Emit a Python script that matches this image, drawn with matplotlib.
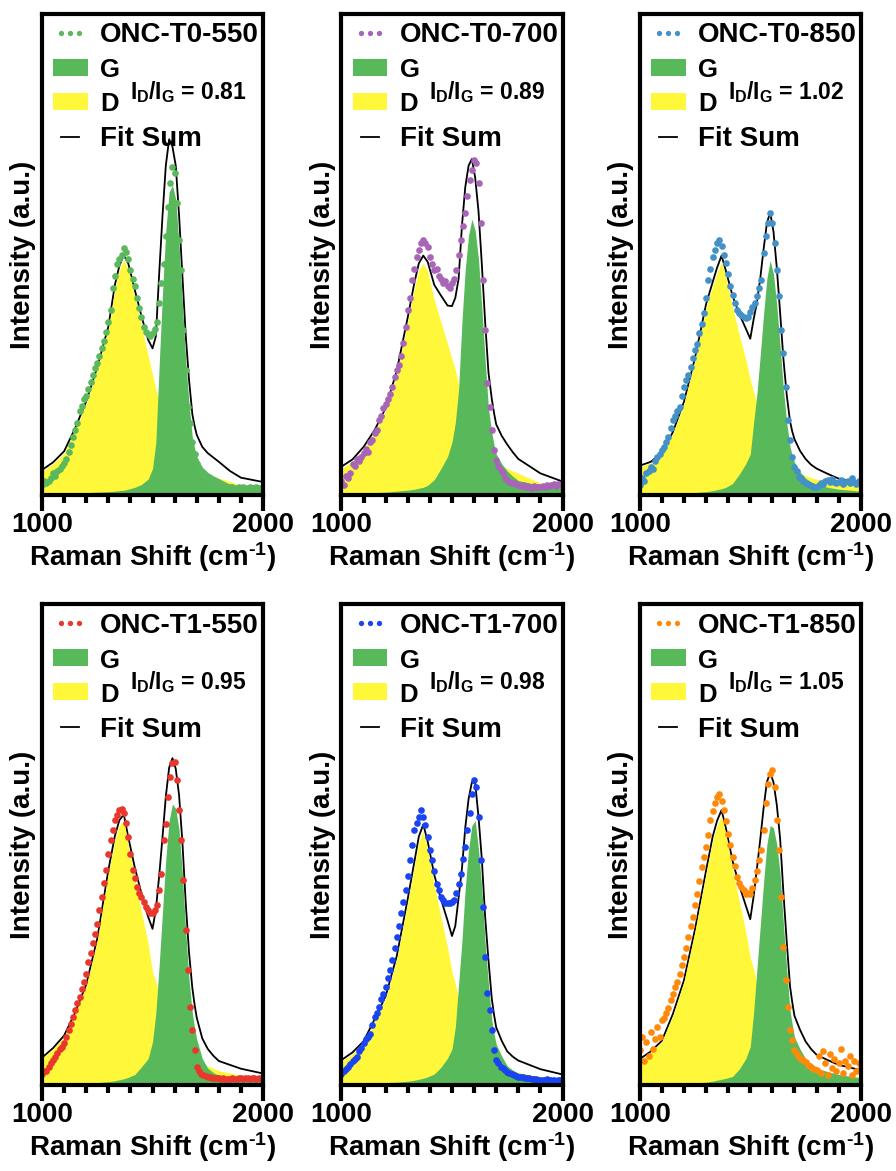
import numpy as np
import matplotlib
matplotlib.use("Agg")
from matplotlib import pyplot as plt
from matplotlib.lines import Line2D
from matplotlib.patches import Patch
from matplotlib.ticker import MultipleLocator

plt.rcParams['font.family'] = ['Liberation Sans', 'DejaVu Sans']
plt.rcParams['font.weight'] = 'bold'
plt.rcParams['mathtext.fontset'] = 'custom'
plt.rcParams['mathtext.rm'] = 'Liberation Sans:bold'
plt.rcParams['mathtext.it'] = 'Liberation Sans:bold'
plt.rcParams['mathtext.bf'] = 'Liberation Sans:bold'

# Raman shift grids (cm-1); intensities are normalised to the panel height
data_x = np.arange(1000, 2001, 10)
fit_x = [1000, 1050, 1100, 1150, 1200, 1250, 1300, 1330, 1350, 1370,
         1390, 1420, 1450, 1480, 1500, 1515, 1530, 1545, 1560, 1575,
         1590, 1605, 1620, 1635, 1650, 1665, 1680, 1690, 1700, 1725,
         1750, 1775, 1800, 1850, 1900, 2000]

samples = ['ONC-T0-550', 'ONC-T0-700', 'ONC-T0-850',
           'ONC-T1-550', 'ONC-T1-700', 'ONC-T1-850']
dot_colors = ['#5cb85c', '#a865b8', '#4391c7', '#e8372c', '#1a44f2', '#ff8a0a']
id_ig = ['0.81', '0.89', '1.02', '0.95', '0.98', '1.05']

# measured spectra
t0_550 = [0.02, 0.03, 0.025, 0.03, 0.035, 0.045, 0.04, 0.05, 0.055, 0.06,
          0.066, 0.075, 0.09, 0.105, 0.12, 0.135, 0.15, 0.175, 0.185, 0.2,
          0.205, 0.22, 0.235, 0.25, 0.265, 0.275, 0.29, 0.305, 0.32, 0.34,
          0.36, 0.385, 0.43, 0.455, 0.48, 0.49, 0.5, 0.513, 0.505, 0.49,
          0.468, 0.45, 0.434, 0.41, 0.39, 0.37, 0.35, 0.34, 0.335, 0.33,
          0.336, 0.345, 0.36, 0.4, 0.44, 0.48, 0.538, 0.6, 0.649, 0.683,
          0.67, 0.607, 0.531, 0.468, 0.343, 0.26, 0.184, 0.149, 0.11, 0.085,
          0.065, 0.055, 0.045, 0.04, 0.035, 0.03, 0.028, 0.025, 0.024, 0.022,
          0.02, 0.02, 0.018, 0.018, 0.017, 0.016, 0.016, 0.015, 0.015, 0.016,
          0.015, 0.016, 0.014, 0.015, 0.016, 0.015, 0.014, 0.016, 0.015, 0.014,
          0.015]
t0_700 = [0.03, 0.02, 0.04, 0.035, 0.045, 0.065, 0.06, 0.075, 0.07, 0.08,
          0.088, 0.095, 0.09, 0.11, 0.115, 0.129, 0.135, 0.155, 0.165, 0.18,
          0.19, 0.2, 0.21, 0.225, 0.245, 0.26, 0.27, 0.29, 0.316, 0.35,
          0.385, 0.41, 0.447, 0.47, 0.496, 0.51, 0.524, 0.53, 0.524, 0.515,
          0.496, 0.48, 0.468, 0.47, 0.455, 0.45, 0.44, 0.445, 0.434, 0.43,
          0.44, 0.45, 0.468, 0.5, 0.531, 0.56, 0.586, 0.621, 0.656, 0.676,
          0.697, 0.69, 0.648, 0.565, 0.447, 0.343, 0.232, 0.184, 0.135, 0.094,
          0.073, 0.06, 0.052, 0.045, 0.035, 0.031, 0.028, 0.025, 0.024, 0.022,
          0.021, 0.018, 0.02, 0.016, 0.018, 0.017, 0.015, 0.018, 0.016, 0.017,
          0.017, 0.019, 0.016, 0.02, 0.018, 0.02, 0.022, 0.019, 0.023, 0.021,
          0.024]
t0_850 = [0.02, 0.035, 0.03, 0.045, 0.05, 0.059, 0.055, 0.07, 0.08, 0.085,
          0.094, 0.1, 0.11, 0.121, 0.14, 0.156, 0.165, 0.175, 0.184, 0.205,
          0.225, 0.24, 0.25, 0.267, 0.285, 0.302, 0.315, 0.336, 0.355, 0.378,
          0.41, 0.447, 0.47, 0.496, 0.51, 0.524, 0.53, 0.517, 0.5, 0.482,
          0.46, 0.434, 0.415, 0.399, 0.385, 0.378, 0.375, 0.371, 0.368, 0.371,
          0.38, 0.392, 0.4, 0.413, 0.43, 0.447, 0.503, 0.538, 0.565, 0.586,
          0.565, 0.524, 0.468, 0.413, 0.343, 0.295, 0.225, 0.156, 0.114, 0.08,
          0.059, 0.05, 0.038, 0.035, 0.03, 0.024, 0.022, 0.02, 0.018, 0.017,
          0.017, 0.02, 0.025, 0.022, 0.03, 0.031, 0.026, 0.033, 0.028, 0.024,
          0.028, 0.032, 0.022, 0.026, 0.03, 0.024, 0.035, 0.028, 0.022, 0.03,
          0.031]
t1_550 = [0.024, 0.03, 0.03, 0.038, 0.045, 0.052, 0.058, 0.066, 0.075, 0.08,
          0.087, 0.1, 0.115, 0.128, 0.142, 0.156, 0.17, 0.184, 0.2, 0.215,
          0.232, 0.255, 0.275, 0.295, 0.315, 0.336, 0.365, 0.392, 0.42, 0.447,
          0.48, 0.509, 0.53, 0.551, 0.562, 0.572, 0.575, 0.565, 0.545, 0.516,
          0.48, 0.447, 0.43, 0.412, 0.4, 0.392, 0.38, 0.371, 0.364, 0.357,
          0.357, 0.364, 0.375, 0.405, 0.44, 0.51, 0.544, 0.6, 0.641, 0.669,
          0.672, 0.634, 0.572, 0.509, 0.426, 0.322, 0.239, 0.163, 0.114, 0.073,
          0.038, 0.03, 0.024, 0.02, 0.018, 0.017, 0.016, 0.015, 0.014, 0.015,
          0.014, 0.013, 0.015, 0.012, 0.013, 0.012, 0.014, 0.013, 0.012, 0.014,
          0.014, 0.013, 0.015, 0.014, 0.012, 0.014, 0.015, 0.013, 0.014, 0.012,
          0.012]
t1_700 = [0.024, 0.03, 0.034, 0.038, 0.044, 0.049, 0.054, 0.059, 0.07, 0.078,
          0.087, 0.095, 0.1, 0.107, 0.125, 0.142, 0.15, 0.163, 0.178, 0.19,
          0.204, 0.222, 0.24, 0.26, 0.285, 0.308, 0.33, 0.357, 0.38, 0.405,
          0.435, 0.468, 0.5, 0.53, 0.545, 0.558, 0.572, 0.558, 0.54, 0.516,
          0.49, 0.468, 0.445, 0.419, 0.405, 0.392, 0.385, 0.378, 0.378, 0.378,
          0.38, 0.385, 0.4, 0.419, 0.44, 0.47, 0.495, 0.53, 0.565, 0.606,
          0.634, 0.62, 0.558, 0.468, 0.371, 0.267, 0.191, 0.156, 0.114, 0.073,
          0.052, 0.045, 0.038, 0.035, 0.031, 0.028, 0.025, 0.022, 0.02, 0.019,
          0.017, 0.016, 0.016, 0.015, 0.014, 0.014, 0.013, 0.012, 0.012, 0.011,
          0.01, 0.011, 0.01, 0.012, 0.01, 0.01, 0.011, 0.009, 0.01, 0.011,
          0.01]
t1_850 = [0.073, 0.1, 0.05, 0.09, 0.06, 0.11, 0.075, 0.095, 0.12, 0.1,
          0.135, 0.14, 0.149, 0.16, 0.177, 0.19, 0.204, 0.215, 0.232, 0.25,
          0.267, 0.285, 0.308, 0.33, 0.35, 0.375, 0.398, 0.425, 0.454, 0.475,
          0.495, 0.52, 0.551, 0.57, 0.586, 0.6, 0.606, 0.59, 0.572, 0.55,
          0.523, 0.5, 0.475, 0.455, 0.433, 0.42, 0.412, 0.405, 0.398, 0.4,
          0.398, 0.41, 0.426, 0.445, 0.468, 0.49, 0.53, 0.586, 0.627, 0.648,
          0.655, 0.62, 0.551, 0.489, 0.392, 0.288, 0.218, 0.163, 0.114, 0.094,
          0.073, 0.065, 0.059, 0.055, 0.052, 0.048, 0.042, 0.04, 0.035, 0.033,
          0.031, 0.06, 0.025, 0.07, 0.045, 0.02, 0.065, 0.035, 0.055, 0.03,
          0.045, 0.075, 0.025, 0.05, 0.04, 0.06, 0.02, 0.05, 0.03, 0.045,
          0.035]

# fitted G band
g_t0_550 = [0.003, 0.003, 0.004, 0.004, 0.005, 0.006, 0.007, 0.008, 0.009, 0.01,
            0.012, 0.016, 0.022, 0.033, 0.055, 0.11, 0.27, 0.42, 0.55, 0.63,
            0.645, 0.615, 0.52, 0.4, 0.28, 0.19, 0.12, 0.098, 0.08, 0.058,
            0.047, 0.04, 0.034, 0.022, 0.016, 0.012]
g_t0_700 = [0.004, 0.004, 0.005, 0.005, 0.006, 0.008, 0.01, 0.012, 0.014, 0.016,
            0.02, 0.032, 0.055, 0.08, 0.11, 0.15, 0.22, 0.36, 0.47, 0.54,
            0.574, 0.55, 0.49, 0.39, 0.28, 0.18, 0.13, 0.105, 0.085, 0.065,
            0.05, 0.039, 0.03, 0.025, 0.02, 0.013]
g_t0_850 = [0.002, 0.002, 0.003, 0.003, 0.004, 0.005, 0.007, 0.009, 0.011, 0.013,
            0.016, 0.024, 0.043, 0.065, 0.085, 0.15, 0.21, 0.29, 0.375, 0.45,
            0.488, 0.46, 0.395, 0.31, 0.22, 0.15, 0.1, 0.082, 0.068, 0.048,
            0.035, 0.027, 0.022, 0.016, 0.012, 0.008]
g_t1_550 = [0.002, 0.002, 0.003, 0.003, 0.004, 0.005, 0.007, 0.009, 0.011, 0.013,
            0.016, 0.022, 0.038, 0.055, 0.09, 0.15, 0.25, 0.36, 0.47, 0.55,
            0.585, 0.575, 0.53, 0.44, 0.32, 0.22, 0.15, 0.12, 0.095, 0.055,
            0.035, 0.026, 0.02, 0.017, 0.014, 0.01]
g_t1_700 = [0.003, 0.003, 0.004, 0.004, 0.005, 0.006, 0.008, 0.01, 0.012, 0.014,
            0.017, 0.023, 0.037, 0.056, 0.075, 0.12, 0.21, 0.3, 0.41, 0.49,
            0.54, 0.55, 0.49, 0.41, 0.295, 0.21, 0.135, 0.107, 0.085, 0.06,
            0.04, 0.031, 0.025, 0.02, 0.015, 0.01]
g_t1_850 = [0.002, 0.002, 0.002, 0.003, 0.003, 0.004, 0.006, 0.008, 0.01, 0.012,
            0.014, 0.018, 0.033, 0.055, 0.08, 0.15, 0.24, 0.33, 0.42, 0.5,
            0.54, 0.535, 0.5, 0.44, 0.335, 0.24, 0.155, 0.125, 0.1, 0.075,
            0.055, 0.043, 0.035, 0.028, 0.022, 0.015]

# fitted D band
d_t0_550 = [0.049, 0.065, 0.087, 0.135, 0.19, 0.26, 0.343, 0.43, 0.468, 0.489,
            0.47, 0.41, 0.35, 0.29, 0.25, 0.22, 0.19, 0.16, 0.135, 0.11,
            0.08, 0.07, 0.062, 0.057, 0.053, 0.05, 0.048, 0.046, 0.045, 0.042,
            0.04, 0.038, 0.035, 0.028, 0.02, 0.015]
d_t0_700 = [0.055, 0.07, 0.095, 0.13, 0.175, 0.25, 0.36, 0.43, 0.468, 0.482,
            0.465, 0.405, 0.36, 0.314, 0.283, 0.26, 0.23, 0.2, 0.17, 0.145,
            0.125, 0.11, 0.1, 0.09, 0.08, 0.075, 0.07, 0.066, 0.062, 0.058,
            0.055, 0.05, 0.045, 0.035, 0.025, 0.015]
d_t0_850 = [0.059, 0.067, 0.085, 0.128, 0.19, 0.28, 0.39, 0.434, 0.462, 0.485,
            0.45, 0.39, 0.334, 0.281, 0.24, 0.215, 0.19, 0.16, 0.135, 0.115,
            0.1, 0.088, 0.078, 0.07, 0.063, 0.058, 0.053, 0.05, 0.048, 0.044,
            0.04, 0.036, 0.033, 0.028, 0.022, 0.018]
d_t1_550 = [0.055, 0.075, 0.1, 0.148, 0.205, 0.3, 0.44, 0.51, 0.54, 0.55,
            0.5, 0.43, 0.36, 0.295, 0.235, 0.215, 0.185, 0.155, 0.13, 0.11,
            0.095, 0.083, 0.073, 0.066, 0.06, 0.056, 0.052, 0.048, 0.045, 0.042,
            0.04, 0.035, 0.03, 0.025, 0.02, 0.014]
d_t1_700 = [0.049, 0.065, 0.087, 0.133, 0.18, 0.262, 0.38, 0.455, 0.505, 0.528,
            0.49, 0.414, 0.35, 0.286, 0.235, 0.211, 0.18, 0.15, 0.125, 0.105,
            0.09, 0.078, 0.068, 0.06, 0.055, 0.05, 0.045, 0.04, 0.035, 0.032,
            0.03, 0.028, 0.026, 0.022, 0.018, 0.012]
d_t1_850 = [0.052, 0.068, 0.09, 0.145, 0.215, 0.32, 0.44, 0.509, 0.54, 0.56,
            0.52, 0.448, 0.383, 0.318, 0.265, 0.242, 0.21, 0.18, 0.155, 0.13,
            0.11, 0.095, 0.083, 0.073, 0.065, 0.058, 0.05, 0.047, 0.044, 0.04,
            0.036, 0.032, 0.028, 0.024, 0.02, 0.016]

spectra = [t0_550, t0_700, t0_850, t1_550, t1_700, t1_850]
g_bands = [g_t0_550, g_t0_700, g_t0_850, g_t1_550, g_t1_700, g_t1_850]
d_bands = [d_t0_550, d_t0_700, d_t0_850, d_t1_550, d_t1_700, d_t1_850]

G_COLOR = '#57b95a'
D_COLOR = '#fff73a'

fig = plt.figure(figsize=(8.96, 11.71), dpi=100)
lefts = [0.0469, 0.3811, 0.714]
bottoms = [0.5773, 0.0734]

for i in range(6):
    ax = fig.add_axes([lefts[i % 3], bottoms[i // 3], 0.2467, 0.4105])
    g = np.array(g_bands[i])
    d = np.array(d_bands[i])

    # fit sum sits under the filled bands, as in the original plot
    ax.plot(fit_x, g + d, color='black', lw=1.3, zorder=1)
    ax.fill_between(fit_x, 0, d, color=D_COLOR, lw=0, zorder=2)
    ax.fill_between(fit_x, 0, g, color=G_COLOR, lw=0, zorder=3)
    ax.plot(data_x, spectra[i], 'o', ls='none', ms=4.8, color=dot_colors[i],
            mew=0, zorder=4)

    ax.set_xlim(1000, 2000)
    ax.set_ylim(0, 1)
    ax.set_xticks([1000, 2000])
    ax.xaxis.set_minor_locator(MultipleLocator(100))
    ax.set_yticks([])
    ax.tick_params(axis='x', which='major', length=11.5, width=3, labelsize=20, pad=1)
    ax.tick_params(axis='x', which='minor', length=5.8, width=3)
    for sp in ax.spines.values():
        sp.set_linewidth(3)
        sp.set_zorder(5)
    ax.set_xlabel(r'Raman Shift (cm$^{\text{-}1}$)', fontsize=20,
                  fontweight='bold', labelpad=1)
    ax.set_ylabel('Intensity (a.u.)', fontsize=20, fontweight='bold', labelpad=4)

    handles = [Line2D([], [], ls='none', marker='o', ms=3.8, mew=0, color=dot_colors[i]),
               Patch(facecolor=G_COLOR, edgecolor='none'),
               Patch(facecolor=D_COLOR, edgecolor='none'),
               Line2D([], [], color='black', lw=1.3)]
    leg = ax.legend(handles, [samples[i], 'G', 'D', 'Fit Sum'], loc='upper left',
                    bbox_to_anchor=(0.05, 0.983), frameon=False, fontsize=20,
                    handlelength=1.25, handleheight=0.58, handletextpad=0.45,
                    labelspacing=0.36, borderpad=0, borderaxespad=0, numpoints=3)
    for t in leg.get_texts()[1:3]:
        t.set_fontsize(18.5)

    ax.text(0.398, 0.824, r'$I_D/I_G$ = ' + id_ig[i], transform=ax.transAxes,
            fontsize=16.5, fontweight='bold', va='baseline', ha='left')

fig.savefig('out.png', dpi=100)
